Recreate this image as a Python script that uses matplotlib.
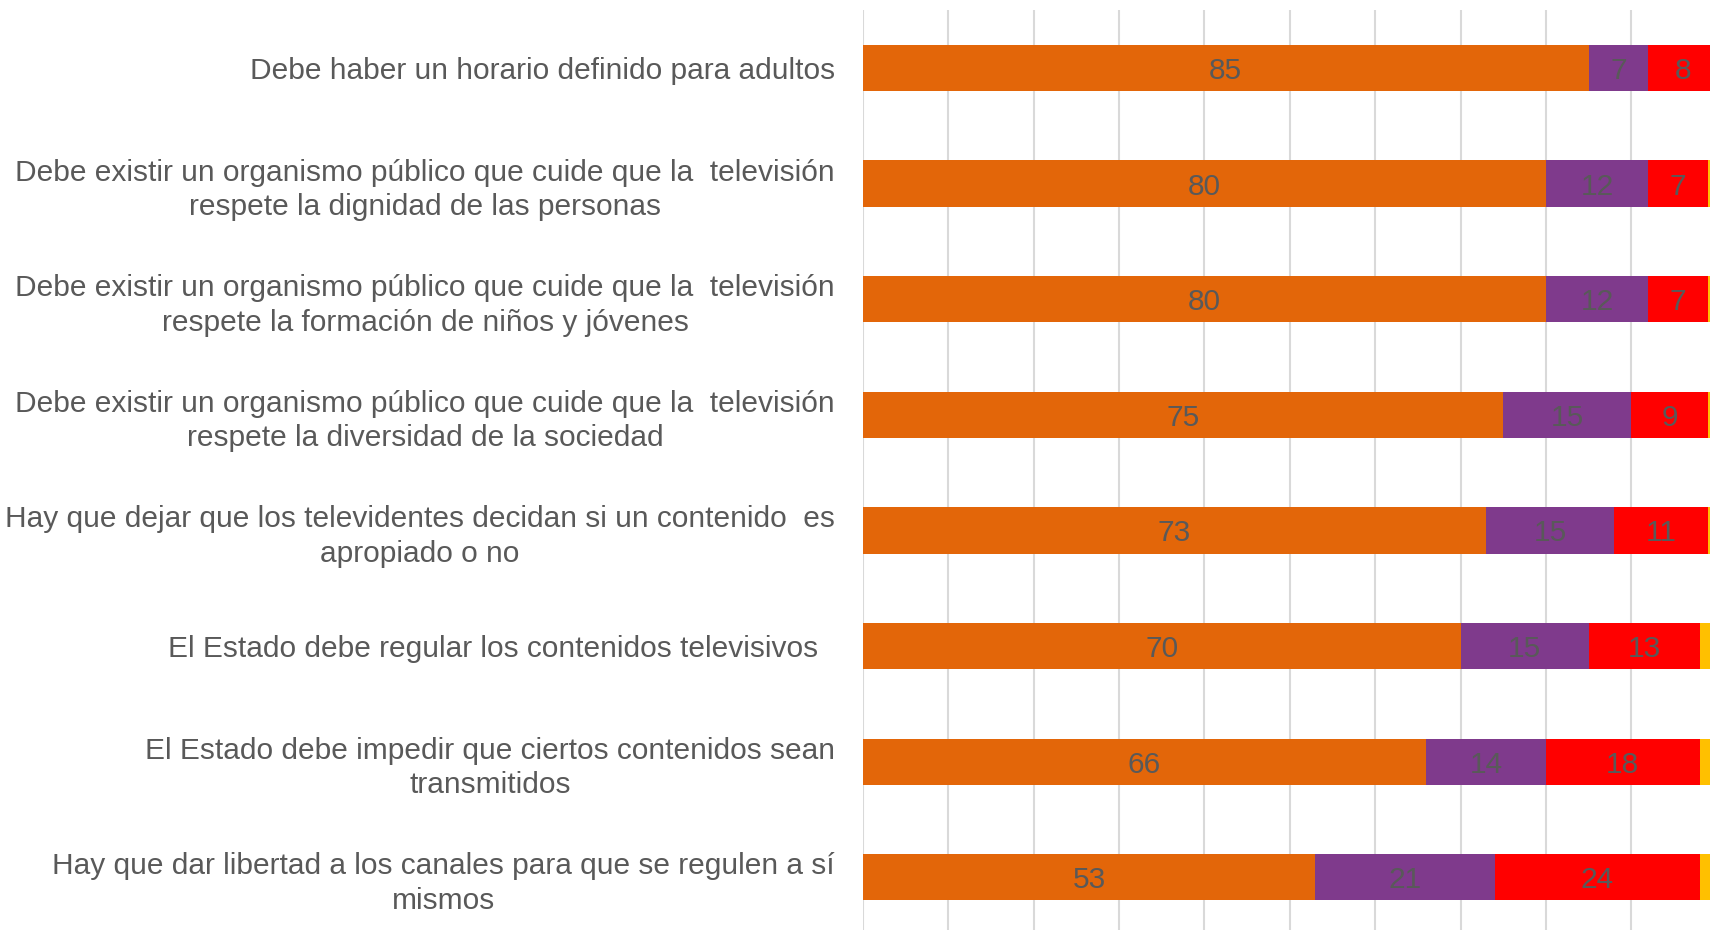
import matplotlib
matplotlib.use('Agg')
import matplotlib.pyplot as plt
from matplotlib import font_manager
from matplotlib.transforms import ScaledTranslation
import numpy as np

categories = [
    "Debe haber un horario definido para adultos",
    "Debe existir un organismo público que cuide que la  televisión\nrespete la dignidad de las personas",
    "Debe existir un organismo público que cuide que la  televisión\nrespete la formación de niños y jóvenes",
    "Debe existir un organismo público que cuide que la  televisión\nrespete la diversidad de la sociedad",
    "Hay que dejar que los televidentes decidan si un contenido  es\napropiado o no",
    "El Estado debe regular los contenidos televisivos  ",
    "El Estado debe impedir que ciertos contenidos sean\ntransmitidos",
    "Hay que dar libertad a los canales para que se regulen a sí\nmismos",
]
serie_1 = [85, 80, 80, 75, 73, 70, 66, 53]
serie_2 = [7, 12, 12, 15, 15, 15, 14, 21]
serie_3 = [8, 7, 7, 9, 11, 13, 18, 24]
serie_4 = [0, 1, 1, 1, 1, 2, 2, 2]
x_ticks = list(range(0, 101, 10))

names = {f.name for f in font_manager.fontManager.ttflist}
fam = 'Liberation Sans Narrow' if 'Liberation Sans Narrow' in names else 'Liberation Sans'
plt.rcParams['font.family'] = [fam, 'DejaVu Sans']

W, H = 1710, 930
fig = plt.figure(figsize=(W / 100, H / 100), dpi=100)
ax = fig.add_axes([862.7 / W, (930 - 935.1) / H, 854 / W, 924.9 / H])

colors = ['#E36609', '#7F3A8C', '#FF0000', '#FFC000']
series = [serie_1, serie_2, serie_3, serie_4]
y = np.arange(len(categories))
left = np.zeros(len(categories))
conts = []
for s, c in zip(series, colors):
    s = np.array(s, dtype=float)
    bc = ax.barh(y, s, left=left, height=0.4, color=c, zorder=3)
    conts.append(bc)
    left += s

for bc, s in zip(conts[:3], series[:3]):
    txts = ax.bar_label(bc, labels=[str(v) for v in s], label_type='center',
                        color='#595959', fontsize=21.5)
    for t in txts:
        t.set_va('center_baseline')

ax.set_xlim(0, 100)
ax.set_ylim(7.5, -0.5)
ax.set_xticks(x_ticks)
ax.set_xticklabels([])
ax.set_yticks(y)
ax.set_yticklabels(categories, multialignment='center', color='#595959',
                   fontsize=21.5, linespacing=1.3)
shift = ScaledTranslation(0, 3 / 100, fig.dpi_scale_trans)
for t in ax.get_yticklabels():
    if '\n' in t.get_text():
        t.set_transform(t.get_transform() + shift)
ax.tick_params(axis='both', length=0)
ax.tick_params(axis='y', pad=20)
for sp in ax.spines.values():
    sp.set_visible(False)
ax.xaxis.grid(True, color='#D9D9D9', linewidth=1.5, zorder=0)
ax.set_axisbelow(True)

fig.savefig('out.png', dpi=100, facecolor='white')
